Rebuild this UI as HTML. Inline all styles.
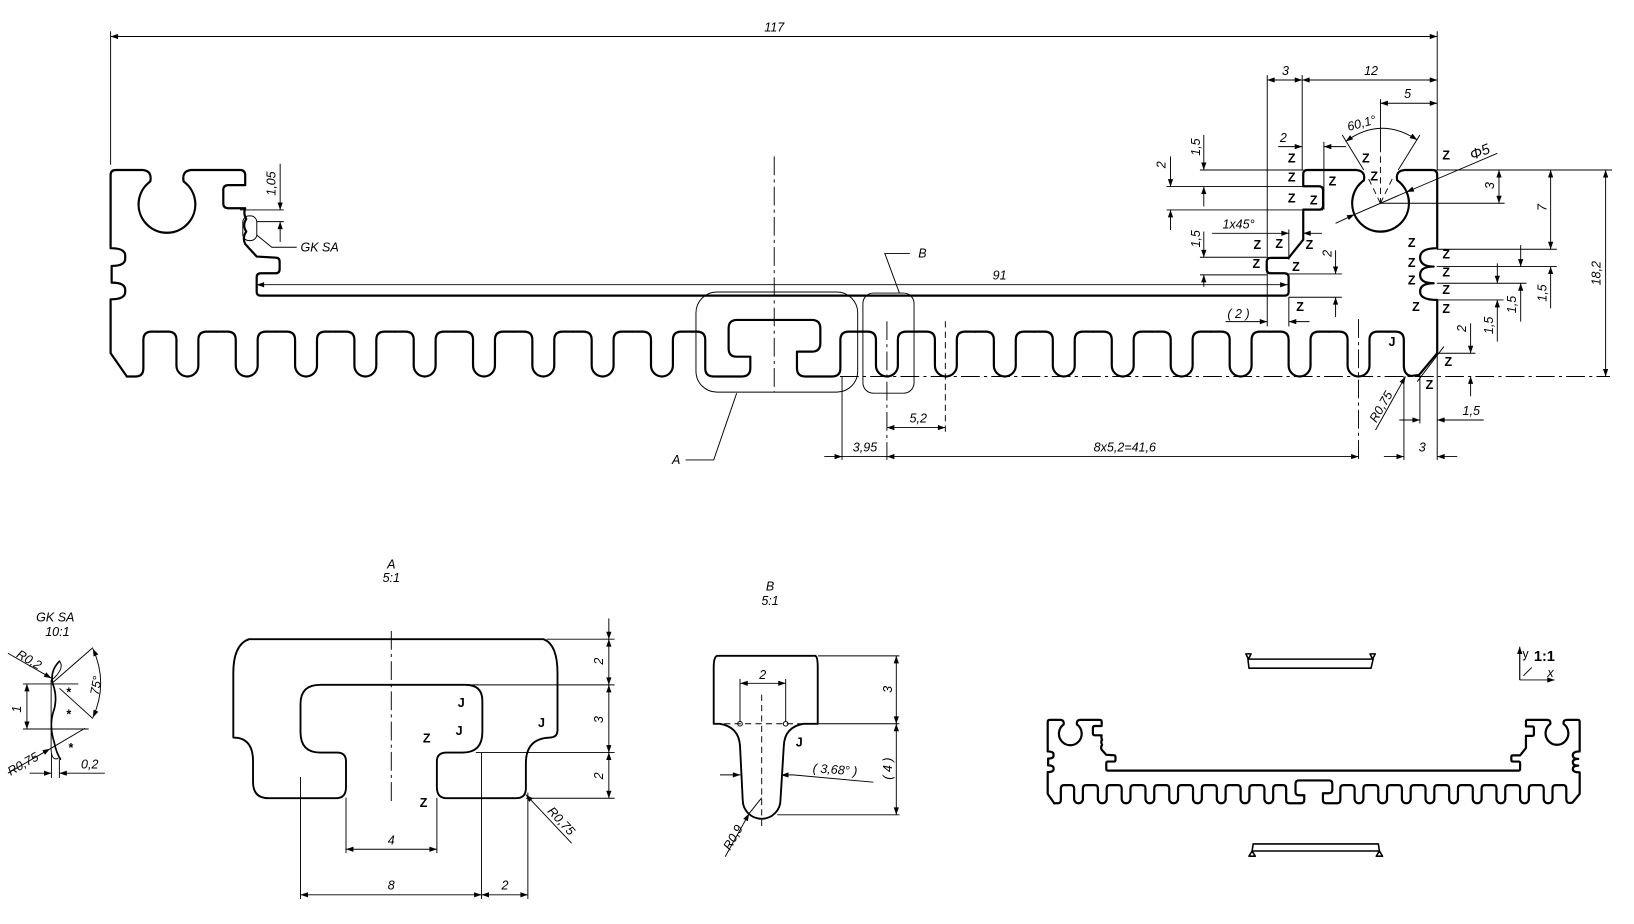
<!DOCTYPE html>
<html><head><meta charset="utf-8"><style>
html,body{margin:0;padding:0;background:#fff;}
svg{display:block}
.o{fill:none;stroke:#000;stroke-width:2.2;stroke-linejoin:round;stroke-linecap:round}
.d{fill:none;stroke:#000;stroke-width:0.9}
.cl{fill:none;stroke:#000;stroke-width:0.9;stroke-dasharray:18 4 3 4}
.dsh{fill:none;stroke:#000;stroke-width:0.9;stroke-dasharray:6 4}
text{font-family:"Liberation Sans",sans-serif;font-size:12px;font-style:italic;fill:#000}
.z{font-style:normal;font-weight:bold;font-size:12px}
</style></head><body>
<svg width="1634" height="924" viewBox="0 0 1566 886" preserveAspectRatio="none" xmlns="http://www.w3.org/2000/svg">
<defs>
<marker id="ar" viewBox="0 0 10 7" refX="10" refY="3.5" markerWidth="9" markerHeight="5" markerUnits="userSpaceOnUse" orient="auto-start-reverse"><path d="M0,0L10,3.5L0,7z" fill="#000"/></marker>
<path id="fin" class="o" vector-effect="non-scaling-stroke" d="M-28.5,318 L-18.5,318 Q-10.5,318 -10.5,326 L-10.5,350.5 A10.5,10.5 0 0 0 10.5,350.5 L10.5,326 Q10.5,318 18.5,318 L28.5,318"/>
</defs>

<g id="outline">
<path class="o" vector-effect="non-scaling-stroke" d="M121.6,361 L106,338.6 L106,287 Q120,287 120,280 L120,278 Q120,271 107,271 L107,255 Q120,255 120,248 L120,245 Q120,238 106,238 L106,168 Q106,163 111,163 L137,163 Q146,164 144,174 A27.2,27.2 0 1 0 176,174 Q174,164 183,163 L230,163 Q235,163 235,168 L235,177.5 L219,177.5 Q214,177.5 214,182 L214,195 Q214,199.7 219,199.7 L235,199.7 Q233,205 236,210 Q232,216 236,222 Q232,228 235,234 L246,246 L264,247 Q268,247 268,251 L268,258 Q268,262 264,262 L250,262 Q246,262 246,266 L246,280 Q246,283.5 250,283.5 L1231,283.5 Q1235,283.5 1235,280 L1235,266 Q1235,262 1231,262 L1218,262 Q1214,262 1214,258 L1214,251 Q1214,247.3 1218,247.3 L1235,247.3 L1249,229.8 L1249,201 L1264,201 Q1268,201 1268,197 L1268,182.6 Q1268,178.6 1264,178.6 L1249,178.6 L1249,167 Q1249,163 1253,163 L1300,163 Q1309,164 1307.1,172.9 A27.2,27.2 0 1 0 1339.1,172.9 Q1337,164 1346,163 L1373,163 Q1377.4,163 1377.4,168 L1377.4,238 Q1361,238 1361,246.8 Q1361,255.6 1374,255.6 Q1361,255.6 1361,263.6 Q1361,271.6 1374,271.6 Q1361,271.6 1361,279.6 Q1361,287.6 1377.4,287.6 L1377.4,338.7 L1360,359.5 L1353,360.5 Q1345.4,360 1345.4,350 L1345.4,326 Q1345.4,318 1337.4,318 L1330,318"/>
<path class="o" vector-effect="non-scaling-stroke" d="M121.6,361 L130,361 Q137.4,361 137.4,353 L137.4,326 Q137.4,318 145.4,318 L151.5,318"/>
<use href="#fin" transform="translate(179.6,0)"/><use href="#fin" transform="translate(236.45,0)"/><use href="#fin" transform="translate(293.3,0)"/><use href="#fin" transform="translate(350.15,0)"/><use href="#fin" transform="translate(407,0)"/><use href="#fin" transform="translate(463.85,0)"/><use href="#fin" transform="translate(520.7,0)"/><use href="#fin" transform="translate(577.55,0)"/><use href="#fin" transform="translate(634.4,0)"/>
<path class="o" vector-effect="non-scaling-stroke" d="M662.9,318 L667.9,318 Q675.9,318 675.9,326 L675.9,353 Q675.9,361 683.9,361 L711,361 Q719.1,361 719.1,353 L719.1,342 L706,342 Q698.3,342 698.3,334 L698.3,314.8 Q698.3,306.8 706.3,306.8 L778,306.8 Q786.2,306.8 786.2,315 L786.2,329 Q786.2,337.2 778,337.2 L763.8,337.2 L763.8,353 Q763.8,361 771.8,361 L797.4,361 Q805.4,361 805.4,353 L805.4,326 Q805.4,318 813.4,318 L821.5,318"/>
<use href="#fin" transform="translate(850,0)"/><use href="#fin" transform="translate(906.5,0)"/><use href="#fin" transform="translate(963,0)"/><use href="#fin" transform="translate(1019.5,0)"/><use href="#fin" transform="translate(1076,0)"/><use href="#fin" transform="translate(1132.5,0)"/><use href="#fin" transform="translate(1189,0)"/><use href="#fin" transform="translate(1245.5,0)"/><use href="#fin" transform="translate(1302,0)"/>
</g>

<!-- top dims -->
<g class="d">
<line x1="106" y1="30" x2="106" y2="158"/><line x1="1377.4" y1="30" x2="1377.4" y2="163"/>
<line x1="106" y1="35" x2="1377.4" y2="35" marker-start="url(#ar)" marker-end="url(#ar)"/>
<line x1="1214.5" y1="72" x2="1214.5" y2="313"/><line x1="1248" y1="72" x2="1248" y2="163"/>
<line x1="1214.5" y1="76.7" x2="1248" y2="76.7" marker-start="url(#ar)" marker-end="url(#ar)"/>
<line x1="1248" y1="76.7" x2="1377.4" y2="76.7" marker-start="url(#ar)" marker-end="url(#ar)"/>
<line x1="1323" y1="95" x2="1323" y2="140"/>
<line x1="1323" y1="99" x2="1377.4" y2="99" marker-start="url(#ar)" marker-end="url(#ar)"/>
<line x1="1286.4" y1="129.4" x2="1307" y2="163"/><line x1="1360.8" y1="129.4" x2="1340" y2="163"/>
<path d="M1289.6,135.8 Q1323,111 1358.3,134.2" marker-start="url(#ar)" marker-end="url(#ar)"/>
<line x1="1268.8" y1="136" x2="1268.8" y2="201"/>
<line x1="1225" y1="140.6" x2="1248" y2="140.6" marker-end="url(#ar)"/>
<line x1="1290" y1="140.6" x2="1268.8" y2="140.6" marker-end="url(#ar)"/>
<line x1="1150" y1="163" x2="1249" y2="163"/><line x1="1118" y1="178.9" x2="1249" y2="178.9"/><line x1="1118" y1="201.3" x2="1268" y2="201.3"/>
<line x1="1153.7" y1="129.4" x2="1153.7" y2="163" marker-end="url(#ar)"/><line x1="1153.7" y1="198" x2="1153.7" y2="178.9" marker-end="url(#ar)"/>
<line x1="1121.8" y1="150" x2="1121.8" y2="178.9" marker-end="url(#ar)"/><line x1="1121.8" y1="220.5" x2="1121.8" y2="201.3" marker-end="url(#ar)"/>
<line x1="1161.7" y1="223.7" x2="1235.2" y2="223.7" marker-end="url(#ar)"/><line x1="1267" y1="223.7" x2="1249" y2="223.7" marker-end="url(#ar)"/>
<line x1="1235.2" y1="220" x2="1235.2" y2="249"/>
<line x1="1150" y1="246.7" x2="1214" y2="246.7"/><line x1="1150" y1="263.6" x2="1214" y2="263.6"/>
<line x1="1153.7" y1="222" x2="1153.7" y2="246.7" marker-end="url(#ar)"/><line x1="1153.7" y1="275" x2="1153.7" y2="263.6" marker-end="url(#ar)"/>
<line x1="1235" y1="262.7" x2="1286" y2="262.7"/><line x1="1235" y1="285" x2="1286" y2="285"/>
<line x1="1280" y1="240" x2="1280" y2="262.7" marker-end="url(#ar)"/><line x1="1280" y1="304" x2="1280" y2="285" marker-end="url(#ar)"/>
<line x1="1235.2" y1="285" x2="1235.2" y2="313"/>
<line x1="1174.5" y1="308.4" x2="1214.5" y2="308.4" marker-end="url(#ar)"/><line x1="1255" y1="308.4" x2="1235.2" y2="308.4" marker-end="url(#ar)"/>
<line x1="246" y1="273" x2="1234" y2="273" marker-start="url(#ar)" marker-end="url(#ar)"/>
<line x1="1298.1" y1="205.7" x2="1348" y2="184.1"/>
<line x1="1280" y1="214.1" x2="1298.1" y2="205.7" marker-end="url(#ar)"/><line x1="1435" y1="147" x2="1348" y2="184.1" marker-end="url(#ar)"/>
<line x1="1323" y1="194.9" x2="1442" y2="194.9"/>
<line x1="1436.6" y1="163" x2="1436.6" y2="194.9" marker-start="url(#ar)" marker-end="url(#ar)"/>
<line x1="1377" y1="163" x2="1545" y2="163"/>
<line x1="1486.1" y1="163" x2="1486.1" y2="239" marker-start="url(#ar)" marker-end="url(#ar)"/>
<line x1="1377" y1="239" x2="1492" y2="239"/>
<line x1="1538.8" y1="163" x2="1538.8" y2="361" marker-start="url(#ar)" marker-end="url(#ar)"/>
<line x1="1486.1" y1="295.6" x2="1486.1" y2="255.6" marker-end="url(#ar)"/>
<line x1="1377" y1="255.6" x2="1492" y2="255.6"/><line x1="1377" y1="271.6" x2="1463" y2="271.6"/><line x1="1377" y1="287.6" x2="1441" y2="287.6"/>
<line x1="1457.4" y1="235" x2="1457.4" y2="255.6" marker-end="url(#ar)"/><line x1="1457.4" y1="308.4" x2="1457.4" y2="271.6" marker-end="url(#ar)"/>
<line x1="1435" y1="252.5" x2="1435" y2="271.6" marker-end="url(#ar)"/><line x1="1435" y1="327.6" x2="1435" y2="287.6" marker-end="url(#ar)"/>
<line x1="1377" y1="338.7" x2="1414" y2="338.7"/>
<line x1="1409.4" y1="310" x2="1409.4" y2="338.7" marker-end="url(#ar)"/><line x1="1409.4" y1="380" x2="1409.4" y2="361" marker-end="url(#ar)"/>
<line x1="1358.3" y1="365.9" x2="1383.8" y2="332.3"/>
<line x1="1360.8" y1="360" x2="1360.8" y2="406"/>
<line x1="1341" y1="402.7" x2="1360.8" y2="402.7" marker-end="url(#ar)"/><line x1="1422" y1="402.7" x2="1377.4" y2="402.7" marker-end="url(#ar)"/>
<line x1="1377.4" y1="339" x2="1377.4" y2="441"/><line x1="1345.5" y1="361" x2="1345.5" y2="441"/>
<line x1="1326.3" y1="437.8" x2="1345.5" y2="437.8" marker-end="url(#ar)"/><line x1="1396.6" y1="437.8" x2="1377.4" y2="437.8" marker-end="url(#ar)"/>
<line x1="1318.3" y1="412.3" x2="1347" y2="361" marker-end="url(#ar)"/>
<!-- bottom middle -->
<line x1="807" y1="361" x2="807" y2="441"/>
<line x1="790" y1="437.8" x2="807" y2="437.8" marker-end="url(#ar)"/>
<line x1="807" y1="437.8" x2="850" y2="437.8"/>
<line x1="850" y1="437.8" x2="1302" y2="437.8" marker-start="url(#ar)" marker-end="url(#ar)"/>
<line x1="850" y1="410" x2="906" y2="410" marker-start="url(#ar)" marker-end="url(#ar)"/>
<polyline points="657,441 684,441 706,377"/>
<polyline points="872,243 848,243 862,281"/>
<rect x="667" y="280" width="155" height="96" rx="20"/>
<rect x="827" y="281" width="49" height="96" rx="10"/>
<!-- left 1,05 -->
<line x1="230" y1="201.3" x2="272" y2="201.3"/><line x1="246" y1="212.5" x2="272" y2="212.5"/>
<line x1="268.5" y1="157" x2="268.5" y2="201.3" marker-end="url(#ar)"/><line x1="268.5" y1="232" x2="268.5" y2="212.5" marker-end="url(#ar)"/>
<rect x="232.7" y="207" width="13.4" height="23.7" rx="6"/>
<polyline points="246,225.3 260.5,237.1 284.4,237.1"/>
</g>
<g class="cl">
<line x1="742" y1="150" x2="742" y2="376"/>
<line x1="805" y1="361" x2="1543" y2="361"/>
<line x1="850" y1="308" x2="850" y2="441"/>
<line x1="1302" y1="306" x2="1302" y2="441"/>
</g>
<g class="dsh">
<line x1="906" y1="308" x2="906" y2="414"/>
<line x1="1323" y1="140" x2="1323" y2="195"/>
<line x1="1323" y1="195" x2="1310" y2="168"/><line x1="1323" y1="195" x2="1336" y2="168"/>
</g>

<!-- texts main -->
<text x="742" y="30" text-anchor="middle">117</text>
<text x="1232" y="72" text-anchor="middle">3</text>
<text x="1314" y="72" text-anchor="middle">12</text>
<text x="1349" y="94" text-anchor="middle">5</text>
<text x="1306" y="122" text-anchor="middle" transform="rotate(-15 1306 122)">60,1°</text>
<text x="1230" y="136" text-anchor="middle">2</text>
<text x="1150" y="141" text-anchor="middle" transform="rotate(-90 1150 141)">1,5</text>
<text x="1117" y="158" text-anchor="middle" transform="rotate(-90 1117 158)">2</text>
<text x="1187" y="219" text-anchor="middle">1x45°</text>
<text x="1150" y="229" text-anchor="middle" transform="rotate(-90 1150 229)">1,5</text>
<text x="1276" y="243" text-anchor="middle" transform="rotate(-90 1276 243)">2</text>
<text x="1187" y="305" text-anchor="middle">( 2 )</text>
<text x="958" y="268" text-anchor="middle">91</text>
<text x="880" y="247">B</text>
<text x="1420" y="150" text-anchor="middle" transform="rotate(-22 1420 150)" style="font-size:14px">Φ5</text>
<text x="1432" y="178" text-anchor="middle" transform="rotate(-90 1432 178)">3</text>
<text x="1482" y="199" text-anchor="middle" transform="rotate(-90 1482 199)">7</text>
<text x="1534" y="262" text-anchor="middle" transform="rotate(-90 1534 262)">18,2</text>
<text x="1482" y="281" text-anchor="middle" transform="rotate(-90 1482 281)">1,5</text>
<text x="1453" y="292" text-anchor="middle" transform="rotate(-90 1453 292)">1,5</text>
<text x="1431" y="312" text-anchor="middle" transform="rotate(-90 1431 312)">1,5</text>
<text x="1405" y="315" text-anchor="middle" transform="rotate(-90 1405 315)">2</text>
<text x="1410" y="398" text-anchor="middle">1,5</text>
<text x="1363" y="433" text-anchor="middle">3</text>
<text x="1327" y="392" text-anchor="middle" transform="rotate(-60 1327 392)">R0,75</text>
<text x="829" y="433" text-anchor="middle">3,95</text>
<text x="1078" y="433" text-anchor="middle">8x5,2=41,6</text>
<text x="880" y="405" text-anchor="middle">5,2</text>
<text x="644" y="445">A</text>
<text x="264" y="176" text-anchor="middle" transform="rotate(-90 264 176)">1,05</text>
<text x="288" y="241">GK SA</text>
<text class="z" x="1334" y="332" text-anchor="middle">J</text>
<g class="z" text-anchor="middle">
<text class="z" x="1238" y="156">Z</text><text class="z" x="1386" y="153">Z</text><text class="z" x="1309" y="156">Z</text><text class="z" x="1317" y="173">Z</text>
<text class="z" x="1238" y="174">Z</text><text class="z" x="1277" y="178">Z</text><text class="z" x="1238" y="194">Z</text><text class="z" x="1259" y="196">Z</text>
<text class="z" x="1205" y="239">Z</text><text class="z" x="1226" y="238">Z</text><text class="z" x="1255" y="239">Z</text><text class="z" x="1204" y="257">Z</text>
<text class="z" x="1242" y="260">Z</text><text class="z" x="1246" y="298">Z</text><text class="z" x="1353" y="237">Z</text><text class="z" x="1353" y="256">Z</text>
<text class="z" x="1353" y="273">Z</text><text class="z" x="1357" y="298">Z</text><text class="z" x="1386" y="248">Z</text><text class="z" x="1386" y="265">Z</text>
<text class="z" x="1386" y="282">Z</text><text class="z" x="1386" y="300">Z</text><text class="z" x="1388" y="351">Z</text><text class="z" x="1370" y="373">Z</text>
</g>

<!-- GK SA detail -->
<text x="53" y="596" text-anchor="middle">GK SA</text>
<text x="55" y="610" text-anchor="middle">10:1</text>
<path class="o" style="stroke-width:1.6" d="M57,634 Q46,645 52,660 Q55,672 51,683 Q47,696 52,712 Q54,722 58,728"/>
<path class="d" d="M57,634 Q62,640 52,650 L49,652 L49,720 Q50,730 56,727"/>
<g class="d">
<line x1="22" y1="655.8" x2="75" y2="655.8"/><line x1="22" y1="699" x2="85" y2="699"/>
<line x1="25.8" y1="655.8" x2="25.8" y2="699" marker-start="url(#ar)" marker-end="url(#ar)"/>
<line x1="7.6" y1="626.4" x2="49.3" y2="650.3" marker-end="url(#ar)"/>
<line x1="50" y1="655" x2="89" y2="621"/><line x1="57" y1="660" x2="89" y2="689"/>
<path d="M89,622 Q104,655 89,688" marker-start="url(#ar)" marker-end="url(#ar)"/>
<line x1="7.6" y1="741.4" x2="48" y2="718" marker-end="url(#ar)"/><line x1="48" y1="718" x2="81.5" y2="698.3"/>
<line x1="49.3" y1="722" x2="49.3" y2="746"/><line x1="56.9" y1="728" x2="56.9" y2="746"/>
<line x1="28.4" y1="741.4" x2="49.3" y2="741.4" marker-end="url(#ar)"/><line x1="100.5" y1="741.4" x2="56.9" y2="741.4" marker-end="url(#ar)"/>
</g>
<text x="20" y="680" text-anchor="middle" transform="rotate(-90 20 680)">1</text>
<text x="26" y="636" text-anchor="middle" transform="rotate(30 26 636)">R0,2</text>
<text x="96" y="658" text-anchor="middle" transform="rotate(-80 96 658)">75°</text>
<text x="24" y="736" text-anchor="middle" transform="rotate(-30 24 736)">R0,75</text>
<text x="86" y="737" text-anchor="middle">0,2</text>
<text class="z" x="66" y="668" text-anchor="middle">*</text><text class="z" x="66" y="689" text-anchor="middle">*</text><text class="z" x="68" y="721" text-anchor="middle">*</text>

<!-- Detail A -->
<text x="375" y="545" text-anchor="middle">A</text>
<text x="375" y="558" text-anchor="middle">5:1</text>
<path class="o" style="stroke-width:1.8" d="M238.7,612.9 L521,612.9 Q534.3,618 534.3,645.5 L534.3,700 Q534.3,707.2 527,707.2 Q504,708 504,731.8 L504,755.8 Q504,765.4 494.5,765.4 L428.2,765.4 Q418.7,765.4 418.7,755 L418.7,730 Q418.7,721.6 428,721.6 L443.3,721.6 Q462.3,721.6 462.3,702 L462.3,672 Q462.3,656.7 446,656.7 L306.9,656.7 Q288,656.7 288,675 L288,702 Q288,721.6 306.9,721.6 L323,721.6 Q331.6,721.6 331.6,730 L331.6,755 Q331.6,765.4 322,765.4 L257.7,765.4 Q242.5,765.4 242.5,750 L242.5,730 Q242.5,707.2 223.6,707.2 L223.6,645.5 Q223.6,618 238.7,612.9 Z"/>
<line class="cl" x1="375" y1="605" x2="375" y2="772"/>
<g class="d">
<line x1="524" y1="612.9" x2="589" y2="612.9"/><line x1="446" y1="656.7" x2="589" y2="656.7"/><line x1="456" y1="721.6" x2="589" y2="721.6"/><line x1="504" y1="765.4" x2="589" y2="765.4"/>
<line x1="583.5" y1="593" x2="583.5" y2="612.9" marker-end="url(#ar)"/>
<line x1="583.5" y1="612.9" x2="583.5" y2="656.7" marker-start="url(#ar)" marker-end="url(#ar)"/>
<line x1="583.5" y1="656.7" x2="583.5" y2="721.6" marker-start="url(#ar)" marker-end="url(#ar)"/>
<line x1="583.5" y1="721.6" x2="583.5" y2="765.4" marker-start="url(#ar)" marker-end="url(#ar)"/>
<line x1="288" y1="745" x2="288" y2="862"/><line x1="461.5" y1="722" x2="461.5" y2="862"/><line x1="505.9" y1="760" x2="505.9" y2="862"/>
<line x1="331.6" y1="765" x2="331.6" y2="818"/><line x1="418.7" y1="765" x2="418.7" y2="818"/>
<line x1="331.6" y1="814.3" x2="418.7" y2="814.3" marker-start="url(#ar)" marker-end="url(#ar)"/>
<line x1="288" y1="858" x2="461.5" y2="858" marker-start="url(#ar)" marker-end="url(#ar)"/>
<line x1="461.5" y1="858" x2="505.9" y2="858" marker-start="url(#ar)" marker-end="url(#ar)"/>
<line x1="547.8" y1="808.5" x2="504" y2="762" marker-end="url(#ar)"/>
</g>
<text x="578" y="634" text-anchor="middle" transform="rotate(-90 578 634)">2</text>
<text x="578" y="690" text-anchor="middle" transform="rotate(-90 578 690)">3</text>
<text x="578" y="744" text-anchor="middle" transform="rotate(-90 578 744)">2</text>
<text x="375" y="810" text-anchor="middle">4</text>
<text x="375" y="853" text-anchor="middle">8</text>
<text x="484" y="853" text-anchor="middle">2</text>
<text x="535" y="790" text-anchor="middle" transform="rotate(47 535 790)">R0,75</text>
<text class="z" x="442" y="678" text-anchor="middle">J</text><text class="z" x="440" y="705" text-anchor="middle">J</text>
<text class="z" x="409" y="712" text-anchor="middle">Z</text><text class="z" x="519" y="697" text-anchor="middle">J</text><text class="z" x="406" y="774" text-anchor="middle">Z</text>

<!-- Detail B -->
<text x="738" y="566" text-anchor="middle">B</text>
<text x="738" y="580" text-anchor="middle">5:1</text>
<path class="o" style="stroke-width:1.8" d="M687.2,628.9 L781.5,628.9 Q783.7,630 783.7,640 L783.7,694 L770,694 Q752,697 751.2,715 L748,767 A18.1,18.1 0 0 1 711.8,767 L709.2,715 Q708,697 690,694 L684,694 L684,640 Q684,630 687.2,628.9 Z"/>
<line class="dsh" x1="730" y1="666" x2="730" y2="796"/>
<line class="dsh" x1="684" y1="694" x2="784" y2="694"/>
<circle cx="709.2" cy="694" r="2.2" class="d"/><circle cx="753" cy="694" r="2.2" class="d"/>
<g class="d">
<line x1="709.2" y1="651" x2="709.2" y2="692"/><line x1="753" y1="651" x2="753" y2="692"/>
<line x1="709.5" y1="655.2" x2="753" y2="655.2" marker-start="url(#ar)" marker-end="url(#ar)"/>
<line x1="784" y1="628.9" x2="862" y2="628.9"/><line x1="784" y1="694" x2="862" y2="694"/><line x1="745" y1="781.3" x2="862" y2="781.3"/>
<line x1="859" y1="628.9" x2="859" y2="694" marker-start="url(#ar)" marker-end="url(#ar)"/>
<line x1="859" y1="694" x2="859" y2="781.3" marker-start="url(#ar)" marker-end="url(#ar)"/>
<line x1="690" y1="743" x2="709.5" y2="743" marker-end="url(#ar)"/>
<line x1="760" y1="743" x2="748.5" y2="743.2" marker-end="url(#ar)"/><line x1="760" y1="743" x2="837" y2="750"/>
<line x1="695" y1="821.5" x2="718" y2="780" marker-end="url(#ar)"/><line x1="718" y1="780" x2="730" y2="765"/>
</g>
<text x="731" y="651" text-anchor="middle">2</text>
<text x="855" y="661" text-anchor="middle" transform="rotate(-90 855 661)">3</text>
<text x="855" y="737" text-anchor="middle" transform="rotate(-90 855 737)">( 4 )</text>
<text x="800" y="742" text-anchor="middle" transform="rotate(4 800 742)">( 3,68° )</text>
<text x="706" y="805" text-anchor="middle" transform="rotate(-60 706 805)">R0,9</text>
<text class="z" x="766" y="716" text-anchor="middle">J</text>

<!-- small view -->
<use href="#outline" transform="translate(961.6,624.4) scale(0.401,0.404)"/>
<g class="o" style="stroke-width:1.5">
<path d="M1196,632 L1316,632 M1197,640.7 L1314,640.7 M1196,632 L1197,640.7 M1316,632 L1314,640.7"/>
<path d="M1194,627 L1199,627 L1196.5,632 Z M1313,627 L1318,627 L1315.5,632 Z"/>
<path d="M1201,809.2 L1321,809.2 M1200,816 L1322,816 M1201,809.2 L1200,816 M1321,809.2 L1322,816"/>
<path d="M1197,821 L1203,821 L1200,816 Z M1319,821 L1325,821 L1322,816 Z"/>
</g>
<g class="d">
<line x1="1456.5" y1="622" x2="1456.5" y2="652"/><line x1="1456.5" y1="652" x2="1490" y2="652" marker-end="url(#ar)"/>
<line x1="1456.5" y1="652" x2="1456.5" y2="620" marker-end="url(#ar)"/>
<line x1="1460" y1="648" x2="1468" y2="640"/>
</g>
<text x="1459" y="631" style="font-style:normal">y</text>
<text x="1470" y="634" style="font-style:normal;font-weight:bold;font-size:14px">1:1</text>
<text x="1483" y="649">x</text>
</svg>
</body></html>
